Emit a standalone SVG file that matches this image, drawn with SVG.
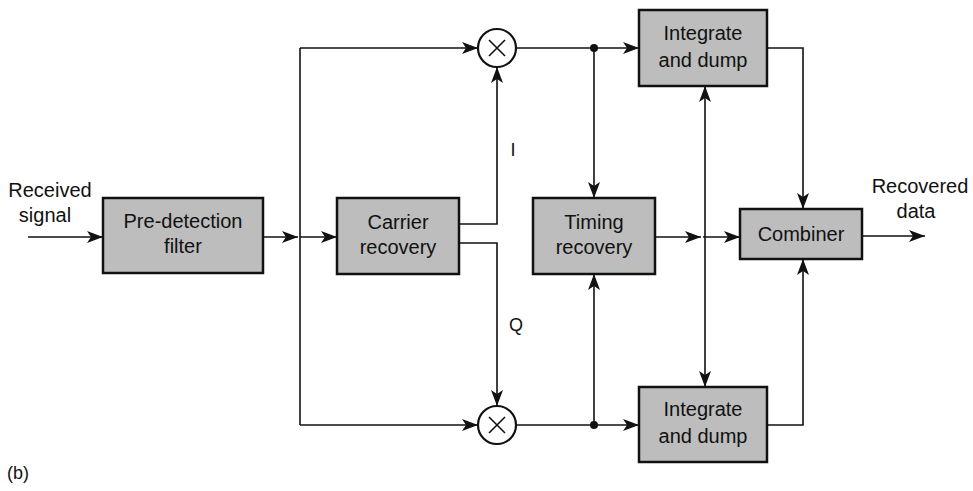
<svg xmlns="http://www.w3.org/2000/svg" width="973" height="491" viewBox="0 0 973 491">
<style>
.box{fill:#bdbdbd;stroke:#111;stroke-width:2.5}
.ln{fill:none;stroke:#111;stroke-width:1.6}
.arr{marker-end:url(#ah)}
.t{font-family:"Liberation Sans",Arial,sans-serif;font-size:20px;fill:#111;text-anchor:middle}
.mul{fill:#fff;stroke:#111;stroke-width:2.2}
</style>
<defs>
<marker id="ah" markerUnits="userSpaceOnUse" markerWidth="16" markerHeight="12" refX="16" refY="6" orient="auto">
<path d="M0,0 L16,6 L0,12 L4,6 Z" fill="#111"/>
</marker>
</defs>
<rect width="973" height="491" fill="#fff"/>
<g id="connectors">
<path class="ln arr" d="M28,237 H103"/>
<path class="ln arr" d="M263,237 H298"/>
<path class="ln arr" d="M300,237 H337"/>
<path class="ln" d="M300,48 V425"/>
<path class="ln arr" d="M300,48 H478"/>
<path class="ln arr" d="M300,425 H478"/>
<path class="ln arr" d="M459,224 H497 V67"/>
<path class="ln arr" d="M459,243 H497 V406"/>
<path class="ln arr" d="M516,48 H639"/>
<path class="ln arr" d="M516,425 H639"/>
<path class="ln arr" d="M594,48 V198"/>
<path class="ln arr" d="M594,425 V274"/>
<path class="ln arr" d="M655,237 H701"/>
<path class="ln arr" d="M703,237 H740"/>
<path class="ln arr" d="M705,237 V86"/>
<path class="ln arr" d="M705,237 V387"/>
<path class="ln arr" d="M767,48 H803 V209"/>
<path class="ln arr" d="M767,425 H803 V259"/>
<path class="ln arr" d="M862,236 H925"/>
<circle cx="594" cy="48" r="4" fill="#111"/>
<circle cx="594" cy="425" r="4" fill="#111"/>
</g>
<g id="mult-top">
<circle class="mul" cx="497" cy="48" r="19"/>
<path class="ln" d="M489,40 L505,56 M505,40 L489,56"/>
</g>
<g id="mult-bottom">
<circle class="mul" cx="497" cy="425" r="19"/>
<path class="ln" d="M489,417 L505,433 M505,417 L489,433"/>
</g>
<g id="prefilter">
<rect class="box" x="103" y="198" width="160" height="75"/>
<text class="t" x="183" y="228">Pre-detection</text>
<text class="t" x="183" y="253">filter</text>
</g>
<g id="carrier">
<rect class="box" x="337" y="198" width="122" height="76"/>
<text class="t" x="398" y="229">Carrier</text>
<text class="t" x="398" y="254">recovery</text>
</g>
<g id="timing">
<rect class="box" x="533" y="198" width="122" height="76"/>
<text class="t" x="594" y="229">Timing</text>
<text class="t" x="594" y="254">recovery</text>
</g>
<g id="int-top">
<rect class="box" x="639" y="10" width="128" height="76"/>
<text class="t" x="703" y="40">Integrate</text>
<text class="t" x="703" y="67">and dump</text>
</g>
<g id="int-bottom">
<rect class="box" x="639" y="387" width="128" height="75"/>
<text class="t" x="703" y="416">Integrate</text>
<text class="t" x="703" y="443">and dump</text>
</g>
<g id="combiner">
<rect class="box" x="740" y="209" width="122" height="50"/>
<text class="t" x="801" y="241">Combiner</text>
</g>
<g id="labels">
<text class="t" x="50" y="197">Received</text>
<text class="t" x="45" y="222">signal</text>
<text class="t" x="920" y="193">Recovered</text>
<text class="t" x="916" y="218">data</text>
<text class="t" x="513" y="156" style="font-size:18px">I</text>
<text class="t" x="516" y="331" style="font-size:18px">Q</text>
<text class="t" x="18" y="479" style="font-size:18px">(b)</text>
</g>
</svg>
